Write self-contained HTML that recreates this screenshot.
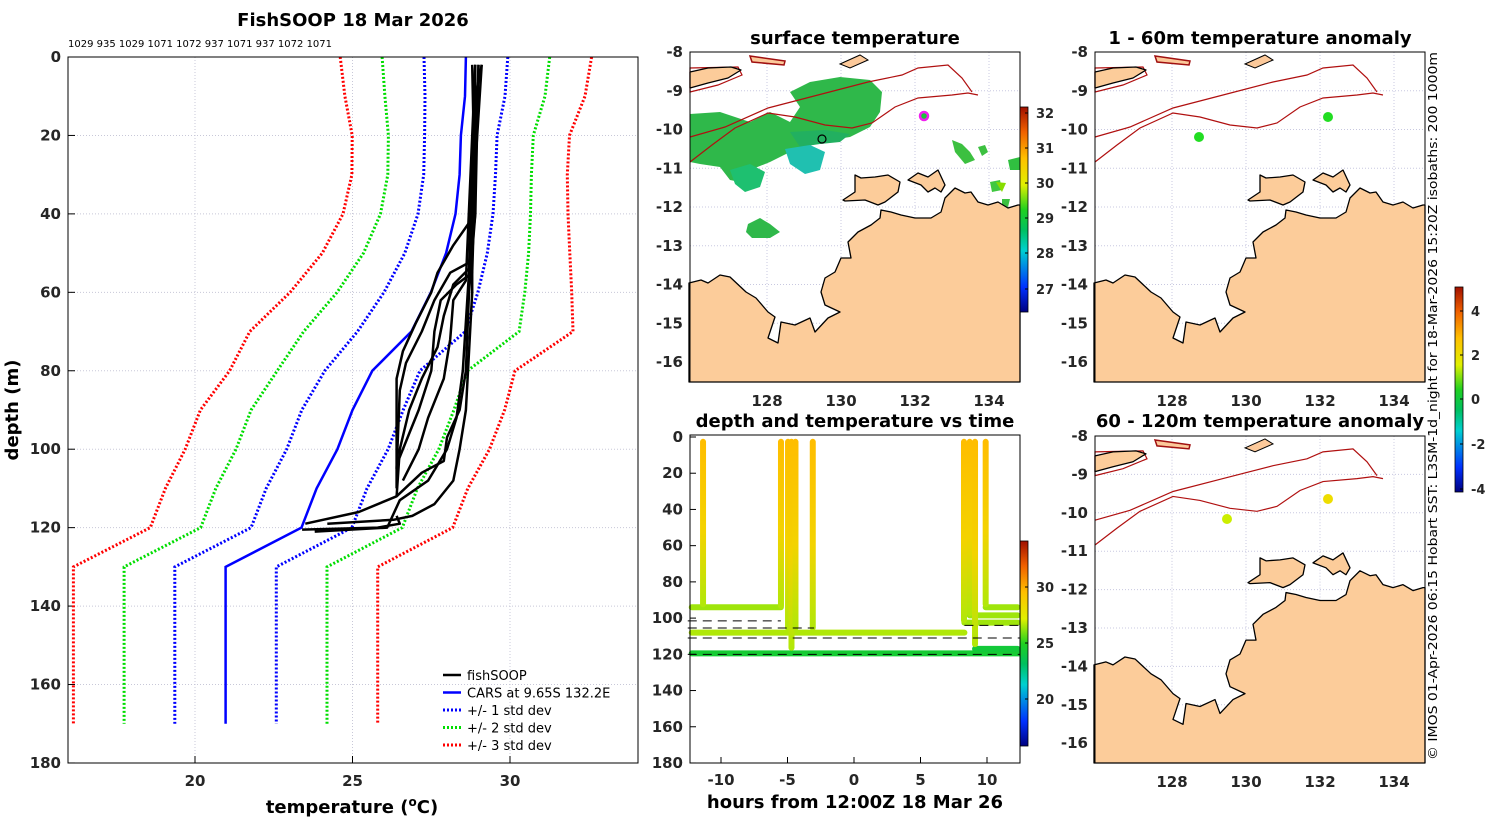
<!DOCTYPE html>
<html><head><meta charset="utf-8"><style>
html,body{margin:0;padding:0;background:#fff;}
svg{display:block;font-family:"DejaVu Sans","Liberation Sans",sans-serif;}
.tk{font-size:15px;font-weight:bold;fill:#262626;}
.ttl{font-size:18px;font-weight:bold;fill:#000;}
</style></head><body>
<svg id="fig" width="1500" height="820" viewBox="0 0 1500 820" xmlns="http://www.w3.org/2000/svg">
<defs>
<linearGradient id="cmap" x1="0" y1="1" x2="0" y2="0">
<stop offset="0" stop-color="#000080"/><stop offset="0.12" stop-color="#0030ff"/><stop offset="0.3" stop-color="#00d0d0"/><stop offset="0.4" stop-color="#00c060"/><stop offset="0.5" stop-color="#20d020"/><stop offset="0.62" stop-color="#e0f000"/><stop offset="0.75" stop-color="#ffc000"/><stop offset="0.88" stop-color="#f06000"/><stop offset="1" stop-color="#a01000"/>
</linearGradient>
</defs>
<g id="main"></g>
<g id="maps"></g>
<g id="dtv"></g>
<text x="1437" y="760" transform="rotate(-90 1437 760)" font-size="12" textLength="708" lengthAdjust="spacingAndGlyphs">© IMOS 01-Apr-2026 06:15 Hobart SST: L3SM-1d_night for 18-Mar-2026 15:20Z isobaths: 200  1000m</text>
</svg>
<script>
// ===== Profile chart data =====
const depths = [0,10,20,30,40,50,60,70,80,90,100,110,120,130,170];
const carsMean = [28.60,28.57,28.44,28.40,28.27,27.97,27.49,26.87,25.63,25.00,24.52,23.86,23.38,20.97,20.97];
const carsStd = [1.33,1.27,1.15,1.14,1.19,1.31,1.49,1.71,1.51,1.61,1.61,1.60,1.60,1.61,1.61];
const xTicks = [20,25,30];
const yTicks = [0,20,40,60,80,100,120,140,160,180];
const profT1 = [29.1,28.9,28.9,28.7,28.6,28.4,28.0,27.9,27.2,26.4,25.2,23.5];
const profD1 = [2,10,40,60,80,90,97,103,106,112,116,119];
const profT2 = [28.8,28.9,28.7,28.5,28.3,28.0,27.4,26.5,26.1,23.8];
const profD2 = [2,40,55,80,92,100,108,113,120,121];
const profT3 = [29.0,28.9,28.2,27.7,27.5,27.0,26.6,26.4,26.4];
const profD3 = [2,40,48,55,60,68,75,82,110];
const profT4 = [28.9,28.8,28.1,27.6,27.2,26.7,26.5,26.4];
const profD4 = [2,52,55,62,70,78,85,105];
const profT5 = [28.9,28.7,28.2,27.9,27.7,27.2,26.8,26.5,26.4];
const profD5 = [2,54,58,66,74,82,90,100,112];
const profT6 = [29.0,28.8,28.3,27.8,27.6,27.5,27.1,26.8,26.4];
const profD6 = [2,55,58,62,70,80,90,96,104];
const profT7 = [28.9,28.6,28.2,28.1,27.9,27.4,27.1,26.6];
const profD7 = [2,57,62,72,82,92,100,108];
const profT8 = [29.1,28.8,28.8,28.6,28.4,28.2,27.6,26.9,26.3,24.2];
const profD8 = [2,40,60,90,100,108,114,117,118,119];
const profT9 = [26.4,26.5,25.8,23.4];
const profD9 = [117,119,120,120.5];
// ===== depth/time data =====
const dtvTimes = [-11.35,-5.49,-4.96,-4.7,-4.4,-3.1,8.27,8.7,9.1,9.9];
const dtvBottoms = [94,95,107,118,107,107,103,99,116,94];
const bandDepths = [94,108,119.5,94,98.5,102.5,117];
const bandStart = [-12.2,-12.2,-12.2,9.9,8.7,8.3,9.1];
const bandEnd = [-5.5,8.3,12.4,12.3,12.3,12.3,12.3];
const bandTemps = [26.4,26.6,24.4,26.4,26.4,26.4,24.2];
const dashDepths = [101.5,105.5,111,104,120];
const dashStart = [-12.5,-12.5,-12.5,8.3,-12.5];
const dashEnd = [-5.5,-3,12.5,12.5,12.5];
const tTicks = [-10,-5,0,5,10];
const dtvYTicks = [0,20,40,60,80,100,120,140,160,180];

const NS='http://www.w3.org/2000/svg';
function mk(parent,tag,attrs,text){const e=document.createElementNS(NS,tag);for(const k in attrs)e.setAttribute(k,attrs[k]);if(text!==undefined)e.textContent=text;parent.appendChild(e);return e;}

// ---------- main profile chart ----------
const X=T=>195+(T-20)*31.5, Y=d=>57+d*3.922;
const M=document.getElementById('main');
mk(M,'text',{x:353,y:26,'text-anchor':'middle',class:'ttl'},'FishSOOP 18 Mar 2026');
const sub=mk(M,'text',{x:68,y:47,'font-size':'10'},'1029 935 1029 1071 1072 937 1071 937 1072 1071');


xTicks.forEach(t=>{const g=mk(M,'line',{x1:X(t),x2:X(t),y1:57,y2:763,stroke:'#c8c8d8','stroke-dasharray':'1 2','stroke-width':1});

const l=mk(M,'text',{x:X(t),y:786,'text-anchor':'middle',class:'tk'},String(t));


mk(M,'line',{x1:X(t),x2:X(t),y1:763,y2:756,stroke:'#000'});});
yTicks.forEach(t=>{const g=mk(M,'line',{x1:68,x2:638,y1:Y(t),y2:Y(t),stroke:'#c8c8d8','stroke-dasharray':'1 2'});

const l=mk(M,'text',{x:61,y:Y(t)+5,'text-anchor':'end',class:'tk'},String(t));


mk(M,'line',{x1:68,x2:75,y1:Y(t),y2:Y(t),stroke:'#000'});});
function poly(T,D,attrs,name){const p=T.map((t,i)=>X(t).toFixed(1)+','+Y(D[i]).toFixed(1)).join(' ');const e=mk(M,'polyline',Object.assign({points:p,fill:'none'},attrs));

return e;}
const sdCols=['#0000ff','#00dd00','#ff0000'];
[1,2,3].forEach(k=>{[-1,1].forEach(s=>{poly(carsMean.map((m,i)=>m+s*k*carsStd[i]),depths,{stroke:sdCols[k-1],'stroke-width':3,'stroke-dasharray':'2 2'},'std-'+k+(s<0?'-low':'-high'));});});
poly(carsMean,depths,{stroke:'#0000ff','stroke-width':2.5},'cars-mean-line');
[[profT1,profD1],[profT2,profD2],[profT3,profD3],[profT4,profD4],[profT5,profD5],[profT6,profD6],[profT7,profD7],[profT8,profD8],[profT9,profD9]].forEach((p,i)=>poly(p[0],p[1],{stroke:'#000','stroke-width':2.5,'stroke-linejoin':'round'},'fishsoop-profile-'+(i+1)));
const ax=mk(M,'rect',{x:68,y:57,width:570,height:706,fill:'none',stroke:'#000','stroke-width':1});


const yl=mk(M,'text',{x:18,y:410,transform:'rotate(-90 18 410)','text-anchor':'middle',class:'ttl'},'depth (m)');


const xl=mk(M,'text',{x:352,y:813,'text-anchor':'middle',class:'ttl'},'');


xl.innerHTML='temperature (<tspan dy="-7" font-size="12">o</tspan><tspan dy="7">C)</tspan>';
const legItems=[['fishSOOP','#000',''],['CARS at 9.65S 132.2E','#0000ff',''],['+/- 1 std dev','#0000ff','2 2'],['+/- 2 std dev','#00dd00','2 2'],['+/- 3 std dev','#ff0000','2 2']];
legItems.forEach((it,i)=>{const y=675+i*17.5;const g=mk(M,'g',{});


mk(g,'line',{x1:443,x2:461,y1:y,y2:y,stroke:it[1],'stroke-width':it[2]?3:2.5,'stroke-dasharray':it[2]||'none'});
mk(g,'text',{x:467,y:y+5,'font-size':'13'},it[0]);});

// ---------- maps ----------
const MP=document.getElementById('maps');
const coast=[[-1,231],[11,228],[18,231],[30,223],[40,225],[56,240],[66,246],[78,260],[85,265],[78,286],[88,291],[91,270],[105,273],[120,266],[125,280],[138,266],[150,260],[135,253],[131,240],[135,226],[145,220],[151,206],[161,206],[158,190],[168,180],[181,173],[190,166],[191,158],[201,160],[211,163],[225,166],[241,166],[251,160],[255,146],[265,136],[275,141],[281,140],[288,150],[298,153],[308,150],[318,156],[328,153],[330,153],[330,330],[-1,330]];
const melville=[[153,148],[165,140],[165,123],[171,126],[185,125],[198,123],[210,130],[208,140],[195,150],[188,153],[175,148],[155,149]];
const cobourg=[[218,128],[228,121],[238,125],[248,118],[255,133],[251,140],[245,136],[238,140],[231,133]];
const timor=[[0,20],[18,16],[41,15],[51,18],[38,26],[18,31],[0,36]];
const iso1=[[0,110],[22,93],[45,76],[78,61],[105,65],[135,73],[162,76],[182,71],[205,55],[228,46],[262,43],[278,41],[288,43]];
const iso2=[[0,85],[35,75],[78,56],[128,43],[178,30],[212,23],[228,16],[258,13],[272,26],[282,40]];
const iso3=[[0,40],[28,33],[52,23],[48,15],[0,16]];
const pts=a=>a.map(p=>p.join(',')).join(' ');
function drawMap(ox,oy,h,name,xl,sst){
 const g=mk(MP,'g',{transform:`translate(${ox},${oy}) scale(1,${h/330})`});
 
 
 mk(g,'rect',{x:0,y:0,width:330,height:330,fill:'#fff'});
 for(let i=1;i<9;i++){mk(g,'line',{x1:0,x2:330,y1:i*38.75,y2:i*38.75,stroke:'#c8c8e0','stroke-dasharray':'1 2'});}
 [77,151,225,299].forEach(x=>mk(g,'line',{x1:x,x2:x,y1:0,y2:330,stroke:'#c8c8e0','stroke-dasharray':'1 2'}));
 if(sst){
  const s=[['#2fb84a','0,62 30,60 60,70 80,60 100,70 110,55 100,40 120,30 150,25 180,28 192,40 190,60 180,75 160,85 140,88 120,92 100,100 80,110 60,118 50,130 40,128 30,115 10,112 0,110'],
   ['#22b060','100,80 135,78 160,82 150,90 130,92 110,95'],
   ['#20c0b0','95,97 120,93 135,100 130,118 115,122 100,112'],
   ['#1ec070','40,118 60,112 75,120 70,135 55,140 45,132'],
   ['#2fb84a','58,172 70,166 80,172 90,180 80,186 62,186 56,180'],
   ['#3cc040','262,88 272,92 280,100 285,108 275,112 265,100'],
   ['#3cc040','288,95 295,93 298,100 292,104'],['#40c840','300,130 310,128 312,138 302,140'],
   ['#30c040','318,108 330,105 330,118 320,118'],['#88dd00','306,130 316,131 312,140'],['#3cc040','312,147 320,147 318,155 312,153']];
  s.forEach(p=>mk(g,'polygon',{points:p[1],fill:p[0]}));
  mk(g,'circle',{cx:132,cy:87,r:4,fill:'none',stroke:'#000','stroke-width':1.2});
  mk(g,'circle',{cx:234,cy:64,r:4,fill:'#20c040',stroke:'#f020f0','stroke-width':2.5});
 }
 mk(g,'polyline',{points:pts(iso1),fill:'none',stroke:'#b01010','stroke-width':1.2});
 mk(g,'polyline',{points:pts(iso2),fill:'none',stroke:'#b01010','stroke-width':1.2});
 mk(g,'polygon',{points:pts(iso3),fill:'none',stroke:'#b01010','stroke-width':1.2});
 mk(g,'polygon',{points:'60,4 95,9 94,13 62,10',fill:'#fcc99a',stroke:'#a01010','stroke-width':1.5});
 mk(g,'polygon',{points:'150,12 170,3 178,8 160,16',fill:'#fcc99a',stroke:'#000','stroke-width':1});
 [timor,coast,melville,cobourg].forEach(c=>mk(g,'polygon',{points:pts(c),fill:'#fccc9a',stroke:'#000','stroke-width':1.3,'stroke-linejoin':'round'}));
 mk(g,'rect',{x:0,y:0,width:330,height:330,fill:'none',stroke:'#000','stroke-width':1});
 const lats=[-8,-9,-10,-11,-12,-13,-14,-15,-16];
 lats.forEach((v,i)=>{const y=oy+i*38.75*h/330;const t=mk(MP,'text',{x:ox-7,y:y+5,'text-anchor':'end',class:'tk'},String(v));
 
 });
 if(xl)[128,130,132,134].forEach((v,i)=>{const t=mk(MP,'text',{x:ox+77+i*74,y:oy+h+24,'text-anchor':'middle',class:'tk'},String(v));
 
 });
}
drawMap(690,52,330,'surface-temperature-map',true,true);
drawMap(1095,52,330,'anomaly-map-1-60m',true,false);
drawMap(1095,436,327,'anomaly-map-60-120m',true,false);
[[1199,137,'#22dd22'],[1328,117,'#22dd22'],[1227,519,'#ccee00'],[1328,499,'#eedd00']].forEach(d=>{const c=mk(MP,'circle',{cx:d[0],cy:d[1],r:5,fill:d[2]});

});
[['surface temperature',855,44],['1 - 60m temperature anomaly',1260,44],['depth and temperature vs time',855,427],['60 - 120m temperature anomaly',1260,427]].forEach(t=>{const e=mk(MP,'text',{x:t[1],y:t[2],'text-anchor':'middle',class:'ttl'},t[0]);

});
function cbar(x,y,h,labels,ys,name){const g=mk(MP,'g',{});


mk(g,'rect',{x:x,y:y,width:8,height:h,fill:'url(#cmap)',stroke:'#000','stroke-width':0.8});
labels.forEach((l,i)=>{mk(g,'line',{x1:x+5,x2:x+8,y1:ys[i],y2:ys[i],stroke:'#000'});mk(g,'text',{x:x+16,y:ys[i]+5,'font-size':'13','font-weight':'bold',fill:'#262626'},l);});}
cbar(1020,107,205,['32','31','30','29','28','27'],[113,148,183,218,253,289],'sst-colorbar');
cbar(1020,541,205,['30','25','20'],[587,643,699],'dtv-colorbar');
cbar(1455,287,205,['4','2','0','-2','-4'],[311,355,399,444,489],'anomaly-colorbar');

// ---------- depth/temperature vs time ----------
const DV=document.getElementById('dtv');
const Xt=t=>854+t*13.3, Yd=d=>437+d*1.811;
const tcol=T=>{const f=(T-15.8)/(34.1-15.8);const st=[[0,[0,0,128]],[0.12,[0,48,255]],[0.3,[0,208,208]],[0.4,[0,192,96]],[0.5,[32,208,32]],[0.62,[224,240,0]],[0.75,[255,192,0]],[0.88,[240,96,0]],[1,[160,16,0]]];
for(let i=1;i<st.length;i++){if(f<=st[i][0]){const a=st[i-1],b=st[i],u=(f-a[0])/(b[0]-a[0]);return 'rgb('+a[1].map((c,j)=>Math.round(c+(b[1][j]-c)*u)).join(',')+')';}}return 'rgb(160,16,0)';};
mk(DV,'rect',{x:690,y:435,width:330,height:328,fill:'#fff'});
const vg=mk(DV,'defs',{});
const lg=mk(vg,'linearGradient',{id:'vgrad',x1:0,y1:0,x2:0,y2:1});
mk(lg,'stop',{offset:0,'stop-color':tcol(29.6)});mk(lg,'stop',{offset:0.55,'stop-color':tcol(28.6)});mk(lg,'stop',{offset:1,'stop-color':tcol(26.6)});
bandDepths.forEach((d,i)=>{const r=mk(DV,'line',{x1:Xt(bandStart[i]),x2:Xt(bandEnd[i]),y1:Yd(d),y2:Yd(d),stroke:tcol(bandTemps[i]),'stroke-width':6,'stroke-linecap':'round'});

});
dtvTimes.forEach((t,i)=>{const r=mk(DV,'rect',{x:Xt(t)-3,y:Yd(1),width:6,height:Yd(dtvBottoms[i])-Yd(1),rx:3,fill:'url(#vgrad)'});

});
dashDepths.forEach((d,i)=>{const l=mk(DV,'line',{x1:Xt(dashStart[i]),x2:Xt(dashEnd[i]),y1:Yd(d),y2:Yd(d),stroke:'#000','stroke-width':1,'stroke-dasharray':'9 6'});

});
mk(DV,'rect',{x:690,y:435,width:330,height:328,fill:'none',stroke:'#000'});
tTicks.forEach(t=>{mk(DV,'line',{x1:Xt(t),x2:Xt(t),y1:763,y2:757,stroke:'#000'});const e=mk(DV,'text',{x:Xt(t),y:785,'text-anchor':'middle',class:'tk'},String(t));

});
dtvYTicks.forEach(t=>{mk(DV,'line',{x1:690,x2:696,y1:Yd(t),y2:Yd(t),stroke:'#000'});const e=mk(DV,'text',{x:683,y:Yd(t)+5,'text-anchor':'end',class:'tk'},String(t));

});
const dx=mk(DV,'text',{x:855,y:808,'text-anchor':'middle',class:'ttl'},'hours from 12:00Z 18 Mar 26');


</script>
</body></html>
